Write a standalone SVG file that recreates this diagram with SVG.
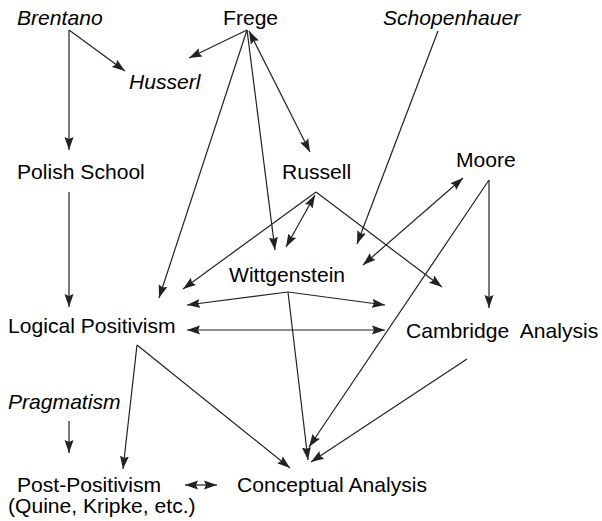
<svg xmlns="http://www.w3.org/2000/svg" width="602" height="521" viewBox="0 0 602 521">
<style>
text{font-family:"Liberation Sans",Arial,Helvetica,sans-serif;font-size:21.1px;fill:#000;white-space:pre}
.it{font-style:italic}
.e line{stroke:#222;stroke-width:1.2;fill:none;marker-end:url(#ah)}
.e line.d{marker-start:url(#ah)}
</style>
<defs>
<marker id="ah" markerUnits="userSpaceOnUse" markerWidth="14" markerHeight="10" refX="13" refY="5" orient="auto-start-reverse" viewBox="0 0 14 10">
<path d="M0,0.5 L13,5 L0,9.5 L2,5 z" fill="#222"/>
</marker>
</defs>
<rect width="602" height="521" fill="#fff"/>
<g class="e" id="connectors">
<line x1="69" y1="30" x2="125" y2="71"/>
<line x1="69" y1="30" x2="69" y2="150"/>
<line x1="247" y1="30" x2="189" y2="58"/>
<line x1="247" y1="30" x2="159" y2="298"/>
<line x1="247" y1="30" x2="275" y2="250"/>
<line class="d" x1="249" y1="31" x2="310" y2="152"/>
<line x1="316" y1="192" x2="183" y2="289"/>
<line class="d" x1="315" y1="195" x2="286" y2="247"/>
<line x1="316" y1="192" x2="442" y2="287"/>
<line x1="438" y1="31" x2="357" y2="244"/>
<line class="d" x1="463" y1="178" x2="363" y2="265"/>
<line x1="489" y1="180" x2="489" y2="308"/>
<line x1="489" y1="180" x2="309" y2="447"/>
<line x1="467" y1="359" x2="311" y2="462"/>
<line x1="288" y1="292" x2="187" y2="305"/>
<line x1="288" y1="292" x2="385" y2="305"/>
<line x1="288" y1="292" x2="308" y2="460"/>
<line class="d" x1="187" y1="330" x2="385" y2="330"/>
<line x1="137" y1="345" x2="123" y2="469"/>
<line x1="137" y1="345" x2="290" y2="468"/>
<line x1="69" y1="192" x2="69" y2="307"/>
<line x1="69" y1="421" x2="69" y2="453"/>
<line class="d" x1="185" y1="485" x2="217" y2="485"/>
</g>
<g id="brentano"><text class="it" x="17" y="25">Brentano</text></g>
<g id="frege"><text x="223" y="25">Frege</text></g>
<g id="schopenhauer"><text class="it" x="383" y="25">Schopenhauer</text></g>
<g id="husserl"><text class="it" x="129" y="89">Husserl</text></g>
<g id="polish"><text x="17" y="179">Polish School</text></g>
<g id="russell"><text x="282" y="179">Russell</text></g>
<g id="moore"><text x="456" y="167">Moore</text></g>
<g id="wittgenstein"><text x="229" y="282">Wittgenstein</text></g>
<g id="logpos"><text x="8" y="333">Logical Positivism</text></g>
<g id="cambridge"><text x="406" y="338">Cambridge  Analysis</text></g>
<g id="pragmatism"><text class="it" x="8" y="409">Pragmatism</text></g>
<g id="postpos"><text x="17" y="492">Post-Positivism</text><text x="8" y="513">(Quine, Kripke, etc.)</text></g>
<g id="conceptual"><text x="237" y="492">Conceptual Analysis</text></g>
</svg>
